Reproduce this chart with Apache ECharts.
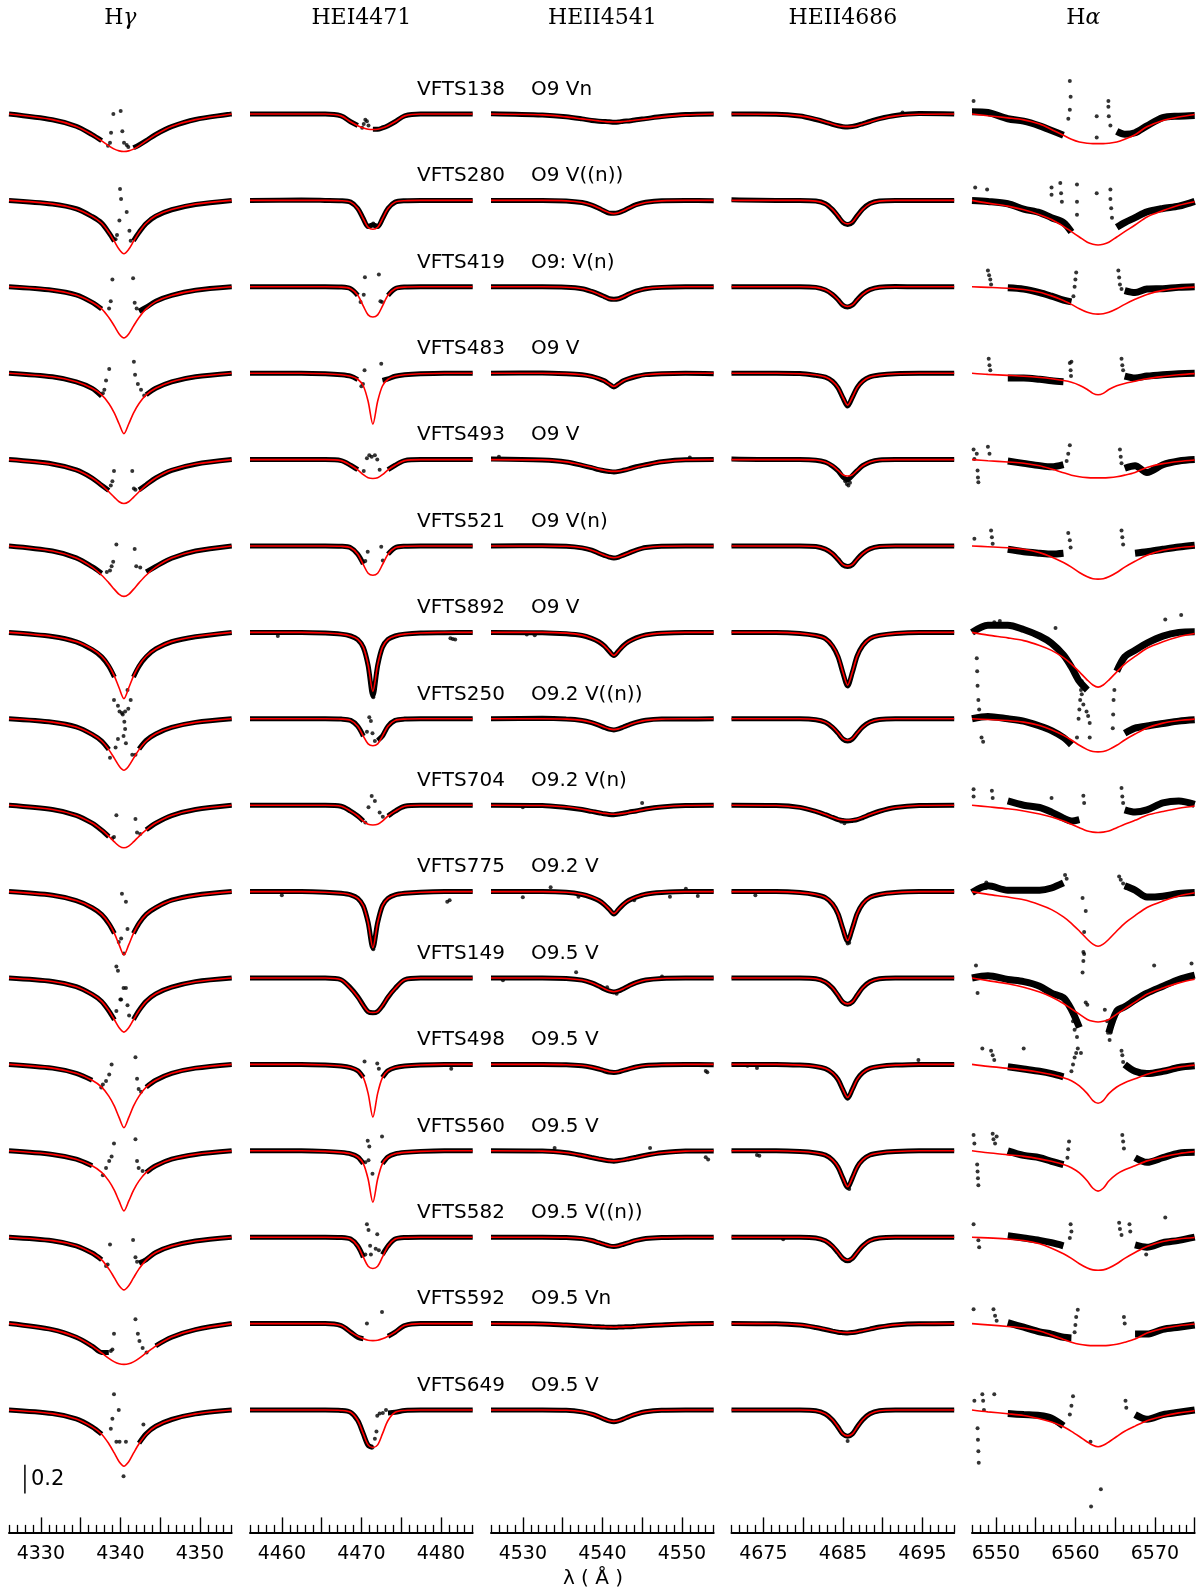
<!DOCTYPE html>
<html><head><meta charset="utf-8">
<script src="https://cdn.jsdelivr.net/npm/echarts@6.0.0/dist/echarts.min.js"></script>
<style>html,body{margin:0;padding:0;background:#fff}#c{width:1204px;height:1595px}</style>
</head><body><div id="c"></div>
<script>
const _ = null;
// ---------- text ----------
const lineTitles = ['H|γ', 'HEI4471', 'HEII4541', 'HEII4686', 'H|α'];
const stars = ['VFTS138','VFTS280','VFTS419','VFTS483','VFTS493','VFTS521','VFTS892','VFTS250',
               'VFTS704','VFTS775','VFTS149','VFTS498','VFTS560','VFTS582','VFTS592','VFTS649'];
const spTypes = ['O9 Vn','O9 V((n))','O9: V(n)','O9 V','O9 V','O9 V(n)','O9 V','O9.2 V((n))',
                 'O9.2 V(n)','O9.2 V','O9.5 V','O9.5 V','O9.5 V','O9.5 V((n))','O9.5 Vn','O9.5 V'];
// ---------- axes ----------
const rangeHg = [4326, 4354], rangeHeI = [4456, 4484], rangeHeII1 = [4526, 4554], rangeHeII2 = [4671, 4699], rangeHa = [6547, 6575];
const tickLabelsHg = [4330, 4340, 4350];
const tickLabelsHeI = [4460, 4470, 4480];
const tickLabelsHeII1 = [4530, 4540, 4550];
const tickLabelsHeII2 = [4675, 4685, 4695];
const tickLabelsHa = [6550, 6560, 6570];
const ROW_OFFSET = 0.6;      // vertical shift between stars (flux units)
const SCALE_BAR = 0.2;       // scale bar length (flux units)

// ---------- wavelength grids ----------
const lamHg   = [4326,4331.45,4334.45,4336.45,4337.65,4338.55,4339.25,4339.85,4340.45,4341.05,4341.65,4342.35,4343.25,4344.45,4346.45,4349.45,4354];
const lamHeI  = [4456,4462.45,4465.45,4467.45,4468.65,4469.55,4470.25,4470.85,4471.45,4472.05,4472.65,4473.35,4474.25,4475.45,4477.45,4480.45,4484];
const lamHeII1= [4526,4532.45,4535.45,4537.45,4538.65,4539.55,4540.25,4540.85,4541.45,4542.05,4542.65,4543.35,4544.25,4545.45,4547.45,4550.45,4554];
const lamHeII2= [4671,4676.6,4679.6,4681.6,4682.8,4683.7,4684.4,4685,4685.6,4686.2,4686.8,4687.5,4688.4,4689.6,4691.6,4694.6,4699];
const lamHa   = [6547,6549,6551.5,6553.5,6555.5,6557,6558.5,6559.5,6560.5,6561.5,6562.2,6562.85,6563.5,6564.2,6565.2,6566.2,6567.5,6569,6571,6573,6575];

// ---------- H gamma ----------
const modelHg = [
[1,.961,.914,.857,.813,.779,.756,.744,.74,.744,.756,.779,.813,.857,.914,.961,1],
[1,.976,.941,.889,.841,.778,.715,.66,.63,.66,.715,.778,.841,.893,.937,.974,1],
[1,.977,.943,.893,.847,.787,.727,.673,.645,.673,.727,.787,.847,.897,.94,.975,1],
[1,.975,.941,.895,.849,.79,.723,.647,.58,.647,.723,.79,.849,.895,.941,.975,1],
[1,.969,.927,.872,.823,.777,.738,.707,.695,.707,.738,.777,.823,.872,.927,.969,1],
[1,.965,.916,.853,.797,.744,.699,.664,.65,.664,.699,.744,.797,.853,.916,.965,1],
[1,.972,.936,.885,.834,.77,.696,.614,.54,.614,.696,.77,.834,.885,.936,.972,1],
[1,.977,.943,.893,.846,.786,.725,.672,.643,.672,.725,.786,.846,.896,.94,.975,1],
[1,.97,.929,.876,.828,.784,.745,.716,.704,.716,.745,.784,.828,.876,.929,.97,1],
[1,.974,.938,.89,.842,.78,.71,.63,.56,.63,.71,.78,.842,.89,.938,.974,1],
[1,.976,.94,.887,.838,.774,.71,.654,.624,.654,.71,.774,.838,.891,.936,.974,1],
[1,.974,.938,.89,.842,.78,.71,.63,.56,.63,.71,.78,.842,.89,.938,.974,1],
[1,.975,.942,.896,.85,.791,.725,.65,.583,.65,.725,.791,.85,.896,.942,.975,1],
[1,.976,.941,.89,.843,.78,.718,.663,.634,.663,.718,.78,.843,.894,.938,.974,1],
[1,.958,.907,.844,.796,.759,.734,.721,.717,.721,.734,.759,.796,.844,.907,.958,1],
[1,.975,.938,.883,.832,.766,.7,.641,.61,.641,.7,.766,.832,.887,.934,.973,1]];
const obsHg = [
[1,.96,.915,.857,.815,_,_,_,_,_,.765,.785,.815,.858,.912,.962,1],
[1,.975,.942,.888,.842,.776,.716,_,_,_,.72,.778,.84,.89,.935,.972,1],
[1,.976,.944,.892,.846,_,_,_,_,_,_,.83,.858,.9,.94,.976,1],
[1,.975,.94,.895,.84,_,_,_,_,_,_,_,.85,.895,.94,.975,1],
[1,.97,.928,.872,.822,.785,_,_,_,_,_,.79,.825,.872,.925,.968,1],
[1,.965,.918,.856,.81,_,_,_,_,_,_,_,.82,.858,.915,.965,1],
[1,.972,.935,.88,.83,.765,.69,_,_,_,.69,.765,.83,.885,.935,.97,1],
[1,.976,.944,.892,.845,.786,_,_,_,_,_,.79,.85,.895,.94,.975,1],
[1,.97,.93,.875,.826,.782,_,_,_,_,_,_,.83,.875,.928,.97,1],
[1,.974,.937,.888,.84,.778,.71,_,_,_,.71,.78,.842,.888,.94,.975,1],
[1,.976,.94,.886,.837,.772,.71,_,_,_,.712,.775,.838,.89,.936,.975,1],
[1,.974,.938,.89,_,_,_,_,_,_,_,_,.842,.89,.938,.974,1],
[1,.975,.942,.896,_,_,_,_,_,_,_,_,.85,.896,.942,.975,1],
[1,.976,.94,.89,.843,_,_,_,_,_,_,.82,.845,.894,.938,.974,1],
[1,.958,.905,.844,.8,.8,_,_,_,_,_,_,_,.846,.905,.958,1],
[1,.975,.938,.883,.832,_,_,_,_,_,_,.77,.835,.887,.934,.973,1]];
const dotsHg = [
[[4338.7,.80],[4338.83,.87],[4339.12,1.0],[4340.04,1.02],[4340.25,.88],[4340.46,.80],[4340.8,.785],[4341.0,.77],[4338.45,.78]],
[[4339.96,1.08],[4340.09,1.01],[4339.88,.86],[4339.58,.76],[4340.8,.92],[4341.14,.79],[4341.3,.72],[4339.4,.73]],
[[4339.0,1.05],[4341.6,1.06],[4338.79,.90],[4338.58,.85],[4341.8,.89],[4342.05,.85]],
[[4337.99,.885],[4338.2,.95],[4338.6,1.03],[4341.7,1.08],[4341.85,.99],[4342.2,.925],[4342.6,.885],[4343.0,.846],[4337.8,.86]],
[[4339.2,.92],[4341.5,.92],[4338.8,.82],[4339.0,.85],[4341.7,.80],[4341.9,.79]],
[[4339.5,1.01],[4341.8,.98],[4339.1,.89],[4338.9,.86],[4338.7,.83],[4342.0,.86],[4342.5,.85],[4338.3,.82]],
[[4339.7,.49],[4339.9,.45],[4340.2,.44],[4340.6,.45],[4341.0,.47],[4339.2,.53],[4341.3,.53],[4340.9,.60]],
[[4340.3,1.03],[4340.5,.98],[4340.6,.93],[4340.4,.88],[4340.7,.83],[4339.7,.86],[4339.4,.80],[4341.5,.75],[4341.9,.75],[4338.7,.73]],
[[4339.5,.93],[4341.9,.905],[4339.2,.78],[4339.0,.77],[4342.1,.81],[4342.5,.80]],
[[4340.2,.985],[4340.7,.93],[4340.1,.675],[4340.9,.74],[4340.45,.57],[4339.8,.65]],
[[4339.5,1.08],[4339.7,1.05],[4340.4,.93],[4340.7,.93],[4340.0,.85],[4340.1,.85],[4339.5,.77],[4340.9,.81],[4341.1,.74]],
[[4338.9,1.0],[4341.9,1.05],[4337.8,.86],[4338.2,.885],[4338.6,.93],[4342.1,.9],[4342.3,.83],[4342.6,.81],[4337.6,.84]],
[[4339.2,1.05],[4341.9,1.08],[4337.8,.83],[4338.2,.88],[4338.6,.93],[4338.9,.96],[4342.1,.93],[4342.3,.88],[4342.8,.86]],
[[4338.7,.95],[4341.6,.98],[4338.4,.81],[4338.2,.80],[4341.9,.86],[4342.1,.83]],
[[4339.2,.93],[4341.9,1.03],[4342.2,.93],[4342.4,.88],[4342.8,.83],[4343.3,.80],[4338.8,.81],[4339.0,.82]],
[[4339.2,1.11],[4339.8,1.0],[4339.0,.94],[4338.8,.87],[4339.5,.78],[4340.7,.78],[4342.9,.9],[4340.4,.54],[4339.9,.78]]];

// ---------- He I 4471 ----------
const modelHeI = [
[1,1,1,.987,.946,.919,.903,.894,.892,.894,.903,.919,.946,.987,1,1,1],
[1,1,1,.998,.988,.944,.872,.814,.80,.814,.872,.944,.988,.998,1,1,1],
[1,1,1,.998,.987,.941,.866,.805,.79,.805,.866,.941,.987,.998,1,1,1],
[1,1,.996,.989,.979,.958,.911,.805,.646,.805,.911,.958,.979,.989,.996,1,1],
[1,1,1,.993,.961,.928,.895,.874,.869,.874,.895,.928,.961,.993,1,1,1],
[1,1,1,.998,.988,.943,.87,.811,.797,.811,.87,.943,.988,.998,1,1,1],
[1,1,.996,.988,.975,.951,.897,.774,.59,.774,.897,.951,.975,.988,.996,1,1],
[1,1,1,.998,.989,.948,.88,.826,.813,.826,.88,.948,.989,.998,1,1,1],
[1,1,1,.993,.959,.925,.89,.868,.863,.868,.89,.925,.959,.993,1,1,1],
[1,1,.996,.988,.977,.953,.902,.785,.61,.785,.902,.953,.977,.988,.996,1,1],
[1,1,1,.988,.928,.868,.808,.767,.76,.767,.808,.868,.928,.988,1,1,1],
[1,1,.996,.989,.978,.956,.908,.799,.634,.799,.908,.956,.978,.989,.996,1,1],
[1,1,.996,.989,.979,.957,.911,.804,.643,.804,.911,.957,.979,.989,.996,1,1],
[1,1,1,.998,.987,.939,.861,.798,.783,.798,.861,.939,.987,.998,1,1,1],
[1,1,1,.986,.941,.912,.894,.884,.882,.884,.894,.912,.941,.986,1,1,1],
[1,1,1,.997,.984,.927,.834,.758,.74,.758,.834,.927,.984,.997,1,1,1]];
const obsHeI = [
[1,1,1,.987,.946,.92,_,_,.894,.894,.903,.919,.946,.987,1,1,1],
[1,1.002,1,.998,.988,.944,.872,.818,.83,.818,.872,.944,.988,.998,1,1,1],
[1,1,1,.998,.987,.941,_,_,_,_,_,.941,.987,.998,1,1,1],
[1,1,.996,.989,.979,.955,_,_,_,_,.95,.96,.979,.989,.996,1,1],
[1,1,1,.993,.961,.93,_,_,_,_,_,.93,.961,.993,1,1,1],
[1,1,1,.998,.988,.943,.875,_,_,_,_,.943,.988,.998,1,1,1],
[1,1,.996,.988,.975,.95,.895,.77,.56,.77,.897,.951,.975,.988,.996,.998,1],
[1,1,1,.998,.989,.948,.88,_,_,.85,.88,.948,.989,.998,1,1,1],
[1,1,1,.993,.959,.925,.89,_,_,_,_,.925,.959,.993,1,1,1],
[1,1,.996,.988,.977,.953,.9,.785,.61,.785,.902,.953,.977,.988,.996,1,1],
[1,1,1,.988,.93,.87,.81,.765,.758,.768,.806,.866,.928,.988,1,1,1],
[1,1,.996,.989,.978,.956,.91,_,_,_,.91,.956,.978,.989,.996,1,1],
[1,1,.996,.989,.979,.957,.911,_,_,_,.911,.957,.979,.989,.996,1,1],
[1,1,1,.998,.987,.939,.861,_,_,_,.88,.939,.987,.998,1,1,1],
[1,1,1,.986,.941,.905,.895,_,_,_,_,.912,.941,.986,1,1,1],
[1,1,1,.997,.984,.927,.834,.755,.74,_,_,.98,.984,.997,1,1,1]];
const dotsHeI = [
[[4470.3,.93],[4470.5,.96],[4470.7,.95],[4470.9,.92],[4470.1,.905]],
[[4471.5,.84],[4471.3,.83]],
[[4470.45,1.066],[4472.2,1.085],[4470.3,.945],[4472.6,.895],[4469.9,.895],[4472.4,.9]],
[[4470.4,1.02],[4472.5,1.066],[4470.2,.925],[4470.0,.91]],
[[4470.7,1.01],[4471.0,1.03],[4471.7,1.03],[4472.0,1.0],[4470.3,.92],[4472.3,.93],[4471.3,1.02]],
[[4470.8,.96],[4472.5,.995],[4470.5,.895],[4472.7,.9]],
[[4471.5,.55],[4481.5,.955],[4481.8,.95],[4481.2,.96],[4459.5,.975]],
[[4471.0,1.01],[4471.2,.985],[4470.7,.91],[4471.4,.9],[4471.7,.845]],
[[4471.3,1.064],[4471.7,1.03],[4470.9,.985],[4472.3,.95],[4472.7,.92],[4470.5,.88]],
[[4480.8,.93],[4481.1,.94],[4460.0,.975],[4471.5,.6]],
[],
[[4470.4,1.02],[4472.0,1.006],[4472.2,.97],[4481.3,.97]],
[[4470.8,1.07],[4471.0,1.03],[4472.6,1.1],[4470.5,.92],[4471.4,.84],[4470.9,.935]],
[[4470.7,1.09],[4470.9,1.05],[4472.0,1.02],[4471.1,.94],[4471.8,.92],[4472.2,.91],[4470.5,.88],[4471.2,.88]],
[[4470.7,1.0],[4472.6,1.08]],
[[4471.7,.80],[4471.9,.85],[4472.0,.96],[4472.3,.975],[4472.7,.98],[4473.1,1.0],[4471.4,.74]]];

// ---------- He II 4541 ----------
const modelHeII1 = [
[1,.994,.98,.966,.958,.952,.948,.945,.944,.945,.948,.952,.958,.966,.98,.994,1],
[1,1,.997,.986,.968,.947,.928,.914,.908,.914,.928,.947,.968,.986,.997,1,1],
[1,1,.997,.987,.969,.949,.931,.917,.912,.917,.931,.949,.969,.987,.997,1,1],
[1,1,.997,.989,.977,.963,.947,.926,.908,.926,.947,.963,.977,.989,.997,1,1],
[1,.998,.984,.963,.947,.934,.926,.92,.918,.92,.926,.934,.947,.963,.984,.998,1],
[1,1,.998,.988,.971,.952,.936,.923,.918,.923,.936,.952,.971,.988,.998,1,1],
[1,1,.995,.981,.96,.936,.907,.872,.84,.872,.907,.936,.96,.981,.995,1,1],
[1,1,.998,.989,.974,.957,.942,.93,.925,.93,.942,.957,.974,.989,.998,1,1],
[1,.998,.987,.972,.959,.95,.943,.939,.937,.939,.943,.95,.959,.972,.987,.998,1],
[1,1,.995,.982,.962,.939,.912,.878,.848,.878,.912,.939,.962,.982,.995,1,1],
[1,1,.997,.986,.967,.945,.926,.911,.905,.911,.926,.945,.967,.986,.997,1,1],
[1,1,.998,.992,.981,.969,.958,.949,.946,.949,.958,.969,.981,.992,.998,1,1],
[1,.998,.986,.968,.954,.944,.937,.932,.93,.932,.937,.944,.954,.968,.986,.998,1],
[1,1,.998,.991,.978,.963,.951,.941,.937,.941,.951,.963,.978,.991,.998,1,1],
[1,.998,.991,.985,.981,.978,.977,.976,.975,.976,.977,.978,.981,.985,.991,.998,1],
[1,1,.998,.988,.972,.954,.938,.926,.921,.926,.938,.954,.972,.988,.998,1,1]];
const obsHeII1 = [
[1.002,.993,.981,.966,.955,.95,.948,.946,.942,.944,.95,.952,.96,.968,.982,.996,1.0],
[1.0,1.0,.996,.985,.968,.946,.926,.912,.91,.915,.928,.948,.97,.987,.998,.999,.998],
[1.0,1.0,.997,.987,.968,.949,.932,.917,.913,.917,.93,.95,.97,.987,.996,1.0,1.0],
[1.0,1.001,.996,.989,.978,.963,.947,.925,.905,.926,.948,.963,.977,.99,.997,1.0,.997],
[1.004,.997,.984,.96,.944,.93,.922,.918,.914,.918,.926,.936,.95,.964,.985,.999,1.0],
[1.0,1.002,.998,.987,.971,.95,.935,.923,.916,.923,.937,.952,.972,.99,.999,1.0,1.0],
[1.0,.998,.99,.978,.958,.935,.906,.87,.84,.872,.908,.937,.962,.982,.994,1.0,1.0],
[1.0,1.003,.998,.988,.973,.956,.94,.928,.923,.93,.943,.958,.975,.99,.998,.999,1.0],
[1.0,.998,.984,.97,.957,.948,.94,.936,.934,.939,.944,.952,.96,.974,.988,.998,1.0],
[1.0,1.0,.995,.98,.96,.938,.91,.878,.845,.878,.912,.94,.962,.982,.993,1.0,1.0],
[1.0,1.0,.996,.985,.966,.944,.924,.91,.903,.91,.926,.946,.968,.986,.997,1.0,1.0],
[1.0,1.0,.998,.991,.98,.968,.956,.947,.944,.948,.958,.969,.982,.993,.998,1.0,.998],
[1.0,.998,.986,.967,.953,.943,.936,.931,.928,.932,.937,.945,.955,.969,.986,.998,.998],
[1.0,1.0,.998,.99,.977,.962,.95,.94,.936,.941,.951,.963,.978,.991,.998,1.0,1.0],
[1.0,.998,.99,.984,.98,.978,.976,.975,.974,.976,.977,.978,.981,.985,.991,.998,1.0],
[1.0,1.0,.998,.987,.971,.953,.937,.925,.919,.926,.938,.954,.972,.988,.998,1.0,1.0]];
const dotsHeII1 = [
[],[],[],[],
[[4527.0,1.02],[4551.0,1.015]],
[],
[[4530.5,.985],[4531.5,.98]],
[],
[[4545.0,1.015],[4530.0,.985]],
[[4530.0,.96],[4533.5,1.03],[4537.0,.965],[4548.5,.965],[4550.5,1.02],[4552.0,.97],[4544.0,.94]],
[[4527.5,.985],[4536.7,1.04],[4540.6,.935],[4541.8,.89],[4547.5,1.01]],
[[4553.0,.955],[4553.2,.945]],
[[4553.0,.955],[4553.3,.94],[4534.0,1.02],[4546.0,1.02]],
[],[],[]];

// ---------- He II 4686 ----------
const modelHeII2 = [
[1,.998,.987,.965,.945,.93,.919,.914,.912,.914,.919,.93,.945,.965,.987,.998,1],
[1,1,1,.995,.976,.938,.892,.85,.837,.85,.892,.938,.976,.995,1,1,1],
[1,1,1,.996,.979,.948,.91,.874,.863,.874,.91,.948,.979,.996,1,1,1],
[1,1,.996,.987,.973,.944,.9,.833,.778,.833,.9,.944,.973,.987,.996,1,1],
[1,1,1,.997,.983,.957,.925,.895,.886,.895,.925,.957,.983,.997,1,1,1],
[1,1,1,.996,.979,.947,.908,.871,.86,.871,.908,.947,.979,.996,1,1,1],
[1,1,.993,.978,.956,.908,.835,.725,.634,.725,.835,.908,.956,.978,.993,1,1],
[1,1,1,.995,.977,.943,.901,.862,.85,.862,.901,.943,.977,.995,1,1,1],
[1,.998,.984,.958,.935,.916,.903,.897,.895,.897,.903,.916,.935,.958,.984,.998,1],
[1,1,.993,.98,.959,.915,.847,.745,.66,.745,.847,.915,.959,.98,.993,1,1],
[1,1,1,.995,.973,.932,.881,.834,.82,.834,.881,.932,.973,.995,1,1,1],
[1,1,.995,.986,.972,.942,.896,.827,.77,.827,.896,.942,.972,.986,.995,1,1],
[1,1,.995,.985,.97,.937,.887,.812,.75,.812,.887,.937,.97,.985,.995,1,1],
[1,1,1,.995,.976,.939,.894,.853,.84,.853,.894,.939,.976,.995,1,1,1],
[1,.999,.991,.975,.961,.95,.942,.938,.937,.938,.942,.95,.961,.975,.991,.999,1],
[1,1,1,.995,.973,.932,.881,.834,.82,.834,.881,.932,.973,.995,1,1,1]];
const obsHeII2 = [
[1.0,.999,.986,.962,.944,.928,.918,.912,.91,.913,.92,.932,.948,.968,.99,1.003,1.0],
[1.004,1.0,1.0,.996,.977,.936,.889,.848,.832,.848,.893,.94,.978,.996,1.0,1.0,1.0],
[1.0,1.0,1.0,.996,.978,.947,.91,.872,.86,.873,.91,.95,.98,.997,1.002,1.0,1.0],
[1.0,1.0,.998,.985,.972,.944,.898,.83,.772,.833,.9,.946,.975,.988,.997,1.0,1.0],
[1.004,1.0,1.0,.996,.982,.955,.922,.88,.86,.89,.923,.958,.983,.997,1.0,1.0,1.0],
[1.0,1.0,1.0,.996,.978,.946,.906,.869,.858,.87,.909,.948,.98,.996,1.0,1.0,1.0],
[1.0,1.0,.993,.978,.957,.905,.83,.72,.628,.723,.836,.909,.957,.979,.993,1.0,1.0],
[1.0,1.0,1.0,.994,.976,.941,.9,.86,.846,.86,.9,.944,.978,.995,1.0,1.0,1.0],
[1.0,.998,.985,.957,.934,.915,.9,.894,.89,.894,.9,.914,.934,.958,.984,.998,1.0],
[1.0,1.0,.993,.978,.958,.913,.845,.742,.655,.745,.847,.916,.96,.98,.993,1.0,1.0],
[1.0,1.0,1.0,.995,.972,.93,.878,.832,.818,.834,.88,.933,.974,.995,1.0,1.0,1.0],
[1.0,1.0,.995,.986,.971,.94,.894,.825,.765,.828,.897,.943,.973,.986,.995,1.0,1.0],
[1.0,1.0,.995,.985,.97,.936,.885,.81,.745,.812,.888,.938,.971,.985,.995,1.0,1.0],
[1.0,1.0,1.0,.995,.975,.937,.892,.852,.836,.853,.895,.94,.977,.995,1.0,1.0,1.0],
[1.0,.999,.99,.973,.959,.948,.94,.937,.935,.938,.943,.951,.962,.976,.991,.999,1.0],
[1.0,1.0,1.0,.995,.972,.931,.88,.833,.818,.834,.882,.933,.974,.995,1.0,1.0,1.0]];
const dotsHeII2 = [
[[4692.5,1.01]],[],[],[],
[[4685.5,.83],[4685.7,.82],[4685.9,.84],[4685.3,.85]],
[],[],[],
[[4684.8,.885],[4685.2,.875]],
[[4685.6,.64],[4685.8,.645],[4674.0,.975]],
[],
[[4694.5,1.03],[4674.2,.975],[4673.0,.99]],
[[4674.2,.97],[4674.5,.965],[4685.8,.735]],
[[4677.5,.985]],
[],
[[4685.6,.785]]];

// ---------- H alpha ----------
const modelHa = [
[1,.988,.973,.959,.93,.893,.852,.825,.806,.797,.794,.794,.794,.797,.806,.825,.856,.911,.955,.979,.996],
[1,.981,.96,.935,.901,.867,.82,.783,.746,.709,.695,.69,.695,.709,.746,.783,.829,.885,.929,.966,.991],
[1,.996,.99,.981,.962,.937,.905,.878,.848,.823,.813,.81,.813,.823,.848,.878,.913,.947,.975,.99,.998],
[1,.992,.985,.979,.97,.961,.949,.937,.917,.887,.86,.85,.86,.887,.913,.929,.944,.962,.977,.989,.997],
[1,.992,.983,.975,.957,.934,.909,.892,.881,.875,.873,.873,.873,.875,.881,.892,.911,.945,.972,.987,.997],
[1,.995,.988,.977,.954,.924,.885,.853,.816,.786,.773,.77,.773,.786,.816,.853,.894,.936,.97,.988,.998],
[1,.981,.962,.943,.909,.875,.825,.78,.726,.669,.635,.62,.635,.669,.726,.78,.833,.89,.935,.97,.992],
[1,.995,.988,.977,.954,.924,.885,.853,.816,.786,.773,.77,.773,.786,.816,.853,.894,.936,.97,.988,.998],
[1,.989,.975,.96,.939,.918,.89,.867,.844,.821,.813,.81,.813,.821,.844,.867,.895,.93,.956,.979,.994],
[1,.981,.962,.943,.909,.875,.825,.78,.726,.669,.635,.62,.635,.669,.726,.78,.833,.89,.935,.97,.992],
[1,.982,.96,.936,.902,.868,.823,.786,.749,.712,.699,.694,.699,.712,.749,.786,.832,.887,.93,.966,.991],
[1,.986,.973,.962,.946,.93,.908,.887,.851,.797,.749,.73,.749,.797,.843,.873,.9,.932,.959,.981,.995],
[1,.986,.972,.961,.944,.927,.905,.882,.846,.79,.74,.72,.74,.79,.838,.868,.896,.93,.958,.98,.994],
[1,.995,.988,.977,.954,.924,.885,.853,.816,.786,.773,.77,.773,.786,.816,.853,.894,.936,.97,.988,.998],
[1,.991,.98,.969,.948,.92,.89,.87,.856,.849,.847,.847,.847,.849,.856,.87,.893,.934,.966,.985,.997],
[1,.987,.974,.962,.939,.916,.883,.852,.816,.778,.755,.745,.755,.778,.816,.852,.888,.926,.957,.98,.995]];
const obsHa = [
[1.016,1.01,.967,.95,.918,.886,.853,_,_,_,_,_,_,_,.88,.86,.87,.918,.975,.985,.99],
[1.0,.993,.977,.94,.915,.88,.846,.78,_,_,_,_,_,_,.814,.846,.88,.92,.944,.96,.993],
[_,_,.993,.984,.96,.935,.908,.895,_,_,_,_,_,_,_,.974,.96,.984,.987,.996,1.0],
[_,_,.967,.967,.958,.948,.941,_,_,_,_,_,_,_,_,.98,.967,.98,.99,.997,1.0],
[.99,_,.99,.974,.958,.95,.965,_,_,_,_,_,_,_,_,.94,.958,.91,.964,.99,1.0],
[1.01,_,.977,.96,.95,.944,.95,_,_,_,_,_,_,_,_,_,.95,.96,.977,.993,1.005],
[1.0,1.05,1.05,1.02,.975,.925,.843,.76,.66,.6,_,_,_,_,.73,.83,.876,.925,.974,1.0,1.005],
[1.0,1.016,1.0,.984,.95,.918,.87,.82,_,_,_,_,_,_,_,.9,.935,.95,.967,.984,.993],
[_,_,1.03,1.0,.984,.952,.91,.89,.9,_,_,_,_,_,_,.968,.952,.968,1.016,1.03,1.006],
[.994,1.04,1.01,1.01,1.01,1.025,1.06,_,_,_,_,_,_,_,_,1.04,1.01,.962,.968,.987,.994],
[1.0,1.016,.99,.975,.943,.895,.863,.78,.656,_,_,_,_,.62,.77,.8,.847,.895,.943,.99,1.02],
[_,_,.984,.968,.952,.936,.914,_,_,_,_,_,_,_,_,1.0,.952,.936,.952,.978,.99],
[1.0,_,1.0,.968,.952,.927,.904,_,_,_,_,_,_,_,_,_,.952,.92,.952,.984,.99],
[1.0,_,1.01,.994,.978,.962,.94,_,_,_,_,_,_,_,_,_,.946,.93,.962,.978,1.0],
[1.0,_,1.006,.975,.943,.927,.905,.9,_,_,_,_,_,_,_,_,.927,.927,.96,.975,.99],
[1.0,_,.975,.968,.962,.943,.89,_,_,_,_,_,_,_,_,_,.968,.936,.968,.984,1.0]];
const dotsHa = [
[[6559.11,.967],[6559.3,1.03],[6559.4,1.12],[6559.3,1.23],[6562.68,.984],[6562.68,.837],[6564.15,1.09],[6564.15,1.05],[6564.2,.984],[6564.4,.92],[6547.2,1.09]],
[[6557.0,1.09],[6557.0,1.04],[6558.1,1.12],[6558.2,1.05],[6558.3,.99],[6560.2,1.11],[6560.2,.99],[6560.2,.9],[6562.68,1.05],[6564.4,1.075],[6564.4,1.01],[6564.5,.945],[6564.6,.88],[6547.4,1.09],[6548.9,1.075]],
[[6549.0,1.114],[6549.15,1.08],[6549.3,1.05],[6549.4,1.016],[6559.75,.935],[6559.9,1.0],[6560.0,1.05],[6560.1,1.1],[6565.4,1.114],[6565.5,1.065],[6565.6,1.016],[6565.8,.984]],
[[6549.1,1.1],[6549.2,1.055],[6549.3,1.02],[6559.3,1.07],[6559.4,1.02],[6559.45,.98],[6559.5,1.08],[6565.8,1.1],[6565.9,1.055],[6566.0,1.02]],
[[6547.2,1.07],[6547.3,1.005],[6547.7,.925],[6547.75,.876],[6547.8,.843],[6547.6,1.04],[6549.0,1.09],[6549.2,1.04],[6558.9,.99],[6559.1,1.04],[6559.3,1.1],[6565.6,1.07],[6565.7,1.02],[6565.8,.974]],
[[6547.3,1.05],[6549.4,1.108],[6549.5,1.06],[6549.6,1.016],[6559.1,1.09],[6559.3,1.04],[6559.4,.99],[6565.8,1.108],[6565.9,1.06],[6566.0,1.01]],
[[6560.8,.57],[6561.0,.5],[6561.4,.45],[6561.6,.42],[6561.8,.37],[6549.8,1.07],[6571.3,1.09],[6573.3,1.12],[6550.5,1.08],[6557.5,1.03]],
[[6547.6,1.42],[6547.65,1.33],[6547.7,1.23],[6547.8,1.13],[6547.9,1.065],[6548.2,.87],[6548.4,.84],[6560.2,.87],[6560.4,1.0],[6560.5,1.065],[6560.6,1.13],[6560.7,1.2],[6560.8,1.26],[6561.8,.87],[6564.7,.935],[6564.75,1.03],[6564.8,1.13],[6564.9,1.2]],
[[6547.2,1.11],[6547.2,1.06],[6549.5,1.1],[6549.6,1.05],[6561.0,1.065],[6561.1,1.016],[6565.8,1.12],[6565.9,1.06],[6566.0,1.016],[6557.0,1.05]],
[[6548.8,1.064],[6548.75,1.025],[6558.7,1.115],[6558.9,1.09],[6560.9,.955],[6561.3,.866],[6561.1,.72],[6561.0,.58],[6565.5,1.105],[6565.7,1.083],[6566.0,1.057],[6566.4,1.025]],
[[6561.1,1.166],[6561.0,1.118],[6560.9,1.038],[6561.3,.83],[6561.5,.815],[6559.2,.8],[6559.7,.7],[6559.9,.64],[6560.2,.59],[6564.0,.7],[6564.1,.62],[6564.3,.57],[6564.4,.62],[6563.7,.78],[6547.7,.895],[6547.5,1.086],[6574.6,1.1],[6569.9,1.086]],
[[6548.3,1.11],[6549.4,1.095],[6549.6,1.064],[6549.8,1.03],[6553.5,1.11],[6559.5,.952],[6559.7,1.0],[6559.9,1.048],[6560.1,1.08],[6560.3,1.11],[6560.7,1.08],[6565.8,1.095],[6565.9,1.064],[6566.0,1.016]],
[[6547.2,1.11],[6547.3,1.05],[6547.7,.857],[6547.75,.81],[6547.8,.76],[6547.65,.904],[6549.6,1.118],[6549.7,1.08],[6549.9,1.05],[6550.1,1.1],[6559.0,.952],[6559.1,1.01],[6559.2,1.064],[6565.9,1.11],[6566.0,1.064],[6566.1,1.016]],
[[6547.2,1.09],[6547.8,.978],[6547.9,.93],[6559.4,1.09],[6559.5,1.04],[6559.3,.994],[6565.5,1.1],[6565.6,1.057],[6565.8,1.016],[6566.8,1.09],[6566.9,1.04],[6568.9,.88],[6571.3,1.137]],
[[6547.2,1.1],[6549.7,1.1],[6549.9,1.054],[6550.1,1.02],[6559.9,.94],[6560.0,.99],[6560.1,1.045],[6560.3,1.096],[6566.1,1.045],[6566.2,1.0]],
[[6547.7,.873],[6547.75,.793],[6547.8,.714],[6547.85,.634],[6548.3,1.11],[6548.4,1.064],[6548.5,1.0],[6547.3,1.064],[6549.8,1.11],[6559.3,.968],[6559.5,1.03],[6559.7,1.096],[6566.3,1.064],[6566.4,1.016],[6561.97,.33],[6563.2,.45],[6561.9,.78]]];

// ---------- assemble ----------
const columns = [
  {lam: lamHg,    model: modelHg,    obs: obsHg,    dots: dotsHg,    range: rangeHg,    labels: tickLabelsHg,    band: 5},
  {lam: lamHeI,   model: modelHeI,   obs: obsHeI,   dots: dotsHeI,   range: rangeHeI,   labels: tickLabelsHeI,   band: 5},
  {lam: lamHeII1, model: modelHeII1, obs: obsHeII1, dots: dotsHeII1, range: rangeHeII1, labels: tickLabelsHeII1, band: 5},
  {lam: lamHeII2, model: modelHeII2, obs: obsHeII2, dots: dotsHeII2, range: rangeHeII2, labels: tickLabelsHeII2, band: 5},
  {lam: lamHa,    model: modelHa,    obs: obsHa,    dots: dotsHa,    range: rangeHa,    labels: tickLabelsHa,    band: 7}
];
const GRID_LEFT = [9, 250, 491, 731.5, 972];
const GRID_W = 222.7, GRID_TOP = 42, GRID_H = 1490.4;
const Y_MIN = -8.85, Y_MAX = 1.5;
const FONT_SANS = "'DejaVu Sans', 'Liberation Sans', sans-serif";
const FONT_SERIF = "'DejaVu Serif', 'Liberation Serif', serif";

const grids = [], xAxes = [], yAxes = [], series = [];
columns.forEach((c, ci) => {
  grids.push({left: GRID_LEFT[ci], width: GRID_W, top: GRID_TOP, height: GRID_H, containLabel: false});
  const majors = [], minors = [];
  for (let v = Math.ceil(c.range[0]); v <= c.range[1]; v++) { if (v % 5 === 0) majors.push(v); else minors.push(v); }
  xAxes.push({type: 'value', gridIndex: ci, min: c.range[0], max: c.range[1], position: 'bottom',
    axisLine: {show: true, onZero: false, lineStyle: {color: '#000', width: 2}},
    axisTick: {show: true, inside: true, length: 15, customValues: majors, lineStyle: {color: '#000', width: 1.4}},
    axisLabel: {show: true, customValues: c.labels, margin: 12, color: '#000', fontFamily: FONT_SANS, fontSize: 19, formatter: v => String(v)},
    splitLine: {show: false}});
  xAxes.push({type: 'value', gridIndex: ci, min: c.range[0], max: c.range[1], position: 'bottom',
    axisLine: {show: false, onZero: false},
    axisTick: {show: true, inside: true, length: 7.5, customValues: minors, lineStyle: {color: '#000', width: 1.3}},
    axisLabel: {show: false}, splitLine: {show: false}});
  yAxes.push({type: 'value', gridIndex: ci, min: Y_MIN, max: Y_MAX, show: false});
  for (let r = 0; r < stars.length; r++) {
    const off = ROW_OFFSET * r;
    series.push({type: 'line', xAxisIndex: 2 * ci, yAxisIndex: ci, z: 2, silent: true, showSymbol: false,
      smooth: 0.3, connectNulls: false, lineStyle: {color: '#000', width: c.band}, itemStyle: {color: '#000'},
      data: c.lam.map((x, k) => [x, c.obs[r][k] == null ? '-' : c.obs[r][k] - off])});
    series.push({type: 'scatter', xAxisIndex: 2 * ci, yAxisIndex: ci, z: 3, silent: true, symbolSize: 4,
      itemStyle: {color: '#000'}, data: c.dots[r].map(d => [d[0], d[1] - off])});
    series.push({type: 'line', xAxisIndex: 2 * ci, yAxisIndex: ci, z: 4, silent: true, showSymbol: false,
      smooth: 0.3, lineStyle: {color: '#ff0000', width: 1.6}, itemStyle: {color: '#ff0000'},
      data: c.lam.map((x, k) => [x, c.model[r][k] - off])});
  }
});
// scale bar (0.2 in flux) in first panel
const SCALE_LAM = 4328.0, SCALE_BASE = -8.58;
series.push({type: 'line', xAxisIndex: 0, yAxisIndex: 0, silent: true, showSymbol: false,
  lineStyle: {color: '#000', width: 1.5}, data: [[SCALE_LAM, SCALE_BASE], [SCALE_LAM, SCALE_BASE + SCALE_BAR]]});

const chart = echarts.init(document.getElementById('c'), null, {renderer: 'canvas'});
chart.setOption({backgroundColor: '#fff', animation: false, grid: grids, xAxis: xAxes, yAxis: yAxes, series: series});

// ---------- texts ----------
const graphics = [];
columns.forEach((c, ci) => {
  const cx = chart.convertToPixel({xAxisIndex: 2 * ci}, (c.range[0] + c.range[1]) / 2);
  const parts = lineTitles[ci].split('|');
  const text = parts.length > 1 ? '{r|' + parts[0] + '}{g|' + parts[1] + '}' : '{r|' + parts[0] + '}';
  graphics.push({type: 'text', x: cx, y: 18, silent: true,
    style: {text: text, align: 'center', verticalAlign: 'middle', fill: '#000',
      rich: {r: {fontFamily: FONT_SERIF, fontSize: 22, fill: '#000'}, g: {fontFamily: FONT_SERIF, fontSize: 22, fontStyle: 'italic', fill: '#000'}}}});
});
const LABEL_RAISE = 0.17;
for (let r = 0; r < stars.length; r++) {
  const py = chart.convertToPixel({yAxisIndex: 0}, 1 + LABEL_RAISE - ROW_OFFSET * r);
  graphics.push({type: 'text', x: 417, y: py, silent: true,
    style: {text: stars[r], align: 'left', verticalAlign: 'middle', fill: '#000', fontFamily: FONT_SANS, fontSize: 20}});
  graphics.push({type: 'text', x: 531, y: py, silent: true,
    style: {text: spTypes[r], align: 'left', verticalAlign: 'middle', fill: '#000', fontFamily: FONT_SANS, fontSize: 20}});
}
const sbX = chart.convertToPixel({xAxisIndex: 0}, SCALE_LAM);
const sbY = chart.convertToPixel({yAxisIndex: 0}, SCALE_BASE + SCALE_BAR / 2);
graphics.push({type: 'text', x: sbX + 6, y: sbY, silent: true,
  style: {text: '0.2', align: 'left', verticalAlign: 'middle', fill: '#000', fontFamily: FONT_SANS, fontSize: 21}});
graphics.push({type: 'text', x: 593, y: 1579, silent: true,
  style: {text: 'λ ( Å )', align: 'center', verticalAlign: 'middle', fill: '#000', fontFamily: FONT_SANS, fontSize: 20}});
chart.setOption({graphic: graphics});
</script></body></html>
